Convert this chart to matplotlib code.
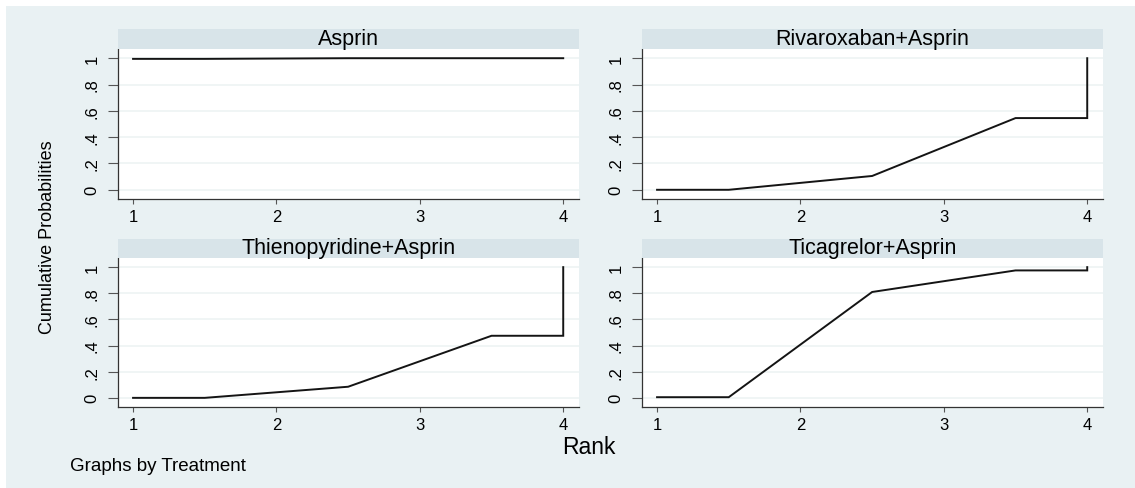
import matplotlib
matplotlib.use('Agg')
import matplotlib.pyplot as plt
from matplotlib.patches import Rectangle

# rank positions used by the cumulative curves
ranks = [1, 1.5, 2.5, 3.5, 4, 4]

treatments = ['Asprin', 'Rivaroxaban+Asprin', 'Thienopyridine+Asprin', 'Ticagrelor+Asprin']
asprin = [0.995, 0.995, 1.0, 1.0, 1.0, 1.0]
rivaroxaban = [0.0, 0.0, 0.105, 0.545, 0.545, 1.0]
thienopyridine = [0.0, 0.0, 0.085, 0.475, 0.475, 1.0]
ticagrelor = [0.005, 0.005, 0.81, 0.975, 0.975, 1.0]
series = [asprin, rivaroxaban, thienopyridine, ticagrelor]

x_ticks = [1, 2, 3, 4]
y_ticks = [0, 0.2, 0.4, 0.6, 0.8, 1.0]
y_tick_labels = ['0', '.2', '.4', '.6', '.8', '1']

BG = '#e9f1f3'
STRIP = '#d8e4e9'
GRID = '#edf3f4'
FONT = 'Liberation Sans'

W, H = 1135, 489
fig = plt.figure(figsize=(W / 100, H / 100), dpi=100, facecolor='white')
fig.patches.append(Rectangle((6 / W, 0), 1 - 6 / W, 1 - 7 / H, transform=fig.transFigure,
                             facecolor=BG, edgecolor='none', zorder=-10))

# panel boxes in pixels: (left, top of plot, right, bottom of plot, strip top)
boxes = [
    (118, 50, 579, 200, 30),
    (642, 50, 1103, 200, 30),
    (118, 259, 579, 408, 240),
    (642, 259, 1103, 408, 240),
]

for (l, t, r, b, st), name, ys in zip(boxes, treatments, series):
    ax = fig.add_axes([l / W, 1 - b / H, (r - l) / W, (b - t) / H])
    ax.set_facecolor('white')
    ax.plot(ranks, ys, color='#141414', linewidth=1.4, solid_joinstyle='miter')
    ax.set_xlim(0.895, 4.11)
    ax.set_ylim(-0.07, 1.07)
    ax.set_xticks(x_ticks)
    ax.set_yticks(y_ticks)
    ax.set_yticklabels(y_tick_labels, rotation=90, va='center', family=FONT)
    ax.set_xticklabels([str(v) for v in x_ticks], family=FONT)
    ax.tick_params(axis='y', direction='out', length=7.2, width=0.8, color='#555555',
                   labelsize=12, pad=6)
    ax.tick_params(axis='x', direction='out', length=3.6, width=0.8, color='#555555',
                   labelsize=12, pad=3.5)
    ax.grid(axis='y', color=GRID, linewidth=1.2)
    ax.set_axisbelow(True)
    for side in ['top', 'right']:
        ax.spines[side].set_visible(False)
    for side in ['left', 'bottom']:
        ax.spines[side].set_color('#333333')
        ax.spines[side].set_linewidth(0.9)

    # strip title
    sax = fig.add_axes([l / W, 1 - t / H, (r - l) / W, (t - st) / H])
    sax.set_facecolor(STRIP)
    sax.set_xticks([])
    sax.set_yticks([])
    for sp in sax.spines.values():
        sp.set_visible(False)
    sax.text(0.5, 0.25, name, ha='center', va='baseline', fontsize=15.5,
             family=FONT, transform=sax.transAxes)

fig.text(48 / W, 1 - 237 / H, 'Cumulative Probabilities', rotation=90, ha='center',
         va='center', fontsize=13, family=FONT)
fig.text(589 / W, 1 - 448 / H, 'Rank', ha='center', va='center', fontsize=16.5,
         family=FONT)
fig.text(70 / W, 1 - 467 / H, 'Graphs by Treatment', ha='left', va='center',
         fontsize=13.5, family=FONT)

fig.savefig('out.png', dpi=100, facecolor=fig.get_facecolor())
